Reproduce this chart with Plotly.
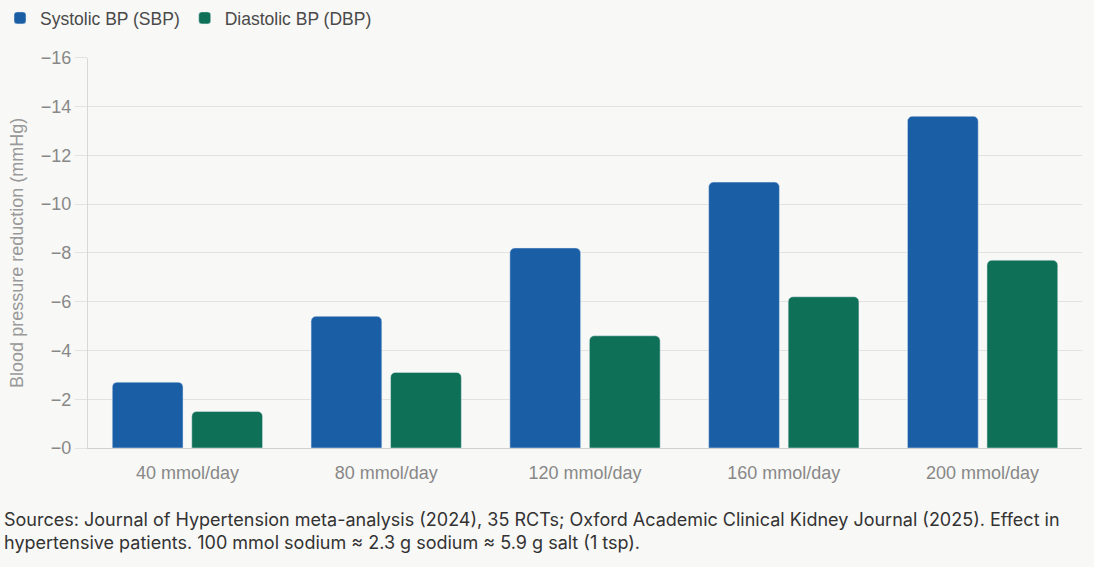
import plotly.graph_objects as go

categories = ["40 mmol/day", "80 mmol/day", "120 mmol/day", "160 mmol/day", "200 mmol/day"]
sbp = [-2.7, -5.4, -8.2, -10.9, -13.6]
dbp = [-1.5, -3.1, -4.6, -6.2, -7.7]
tick_vals = [0, -2, -4, -6, -8, -10, -12, -14, -16]
tick_text = ["\u22120", "\u22122", "\u22124", "\u22126", "\u22128", "\u221210", "\u221212", "\u221214", "\u221216"]

fig = go.Figure()
fig.add_trace(go.Bar(name="Systolic BP (SBP)", x=categories, y=sbp, marker_color="#1a5ea6"))
fig.add_trace(go.Bar(name="Diastolic BP (DBP)", x=categories, y=dbp, marker_color="#0e7056"))

fig.update_layout(
    width=1094, height=567,
    paper_bgcolor="#f8f8f6", plot_bgcolor="#f8f8f6",
    margin=dict(l=88, r=12, t=55, b=119),
    barmode="group", bargap=0.2, bargroupgap=0.11, barcornerradius=5,
    font=dict(family="Liberation Sans, Arial, sans-serif", size=18, color="#888888"),
    legend=dict(orientation="h", x=-0.1, y=1.0, xanchor="left", yanchor="top",
                yref="container", font=dict(size=17.5, color="#4a4a4a"),
                itemwidth=30, tracegroupgap=0),
    showlegend=True,
)
fig.update_xaxes(showgrid=False, showline=True, linecolor="#d0d0d0", linewidth=1,
                 tickfont=dict(size=18, color="#888888"), ticks="", ticklabelstandoff=8)
fig.update_yaxes(range=[0, -16], tickvals=tick_vals, ticktext=tick_text,
                 showgrid=True, gridcolor="#e2e2e0", gridwidth=1,
                 showline=True, linecolor="#d8d8d6", zeroline=False,
                 ticks="outside", ticklen=12, tickcolor="#e2e2e0",
                 tickfont=dict(size=18, color="#888888"),
                 title=dict(text="Blood pressure reduction (mmHg)", font=dict(size=18, color="#999999"), standoff=12))
fig.add_annotation(
    text="Sources: Journal of Hypertension meta-analysis (2024), 35 RCTs; Oxford Academic Clinical Kidney Journal (2025). Effect in<br>hypertensive patients. 100 mmol sodium \u2248 2.3 g sodium \u2248 5.9 g salt (1 tsp).",
    xref="paper", yref="paper", x=-0.087, y=-0.15, xanchor="left", yanchor="top",
    showarrow=False, align="left",
    font=dict(family="Inter, Noto Sans, sans-serif", size=18, color="#333333"),
)
fig.write_html("out.html", config={"displayModeBar": False},
               post_script="document.body.style.margin='0';document.body.style.background='#f8f8f6';")
